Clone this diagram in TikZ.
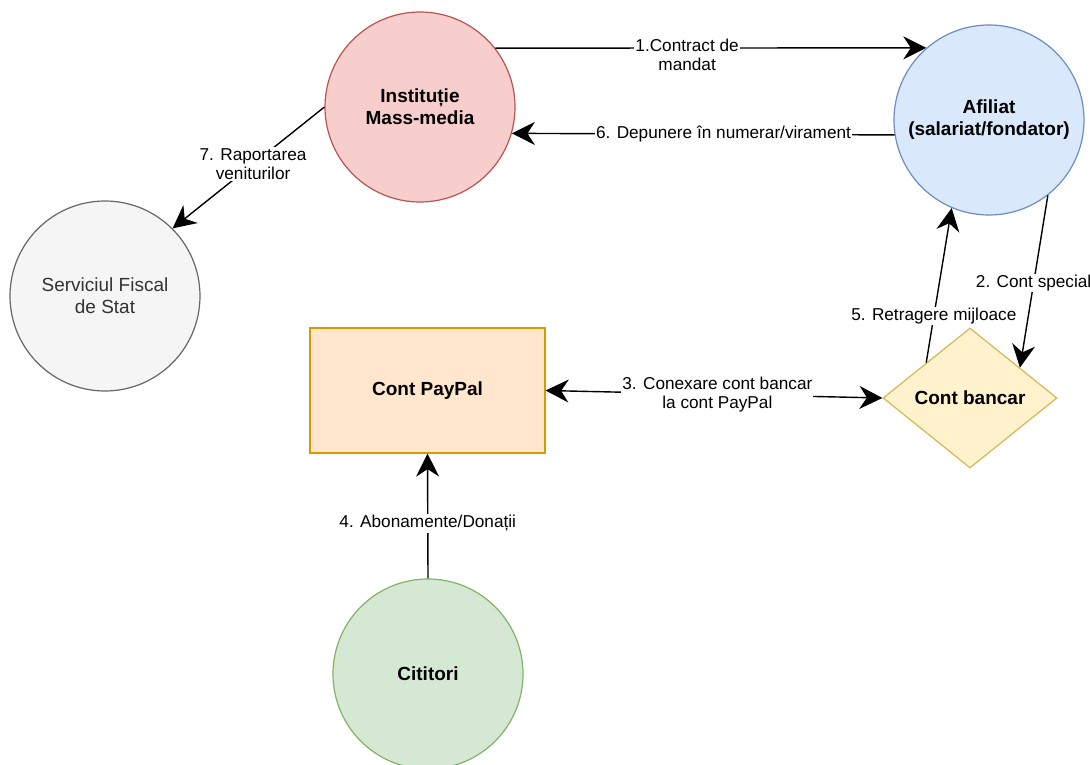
\documentclass[tikz,border=0pt]{standalone}
\usepackage{fontspec}
\setmainfont{Liberation Sans}
\usetikzlibrary{arrows.meta,shapes.geometric,calc}
\definecolor{redF}{HTML}{F8CECC}
\definecolor{redS}{HTML}{B85450}
\definecolor{blueF}{HTML}{DAE8FC}
\definecolor{blueS}{HTML}{6C8EBF}
\definecolor{greyF}{HTML}{F5F5F5}
\definecolor{greyS}{HTML}{666666}
\definecolor{greyT}{HTML}{333333}
\definecolor{orangeF}{HTML}{FFE6CC}
\definecolor{orangeS}{HTML}{D79B00}
\definecolor{yellowF}{HTML}{FFF2CC}
\definecolor{yellowS}{HTML}{D6B656}
\definecolor{greenF}{HTML}{D5E8D4}
\definecolor{greenS}{HTML}{82B366}
\begin{document}
\begin{tikzpicture}[x=1pt,y=-1pt,
  circ/.style={circle, minimum size=190pt, inner sep=0pt, line width=1.2pt, align=center,
    font=\fontsize{19}{22}\selectfont\bfseries},
  boxnode/.style={rectangle, minimum width=235pt, minimum height=125pt, inner sep=0pt, line width=1.2pt,
    align=center, font=\fontsize{19}{22}\selectfont\bfseries},
  dia/.style={diamond, minimum width=174pt, minimum height=140pt, inner sep=0pt, line width=1.2pt,
    align=center, font=\fontsize{19}{22}\selectfont\bfseries},
  arr/.style={-{Stealth[length=23pt,width=23pt,inset=7.5pt]}, line width=1.4pt},
  biarr/.style={{Stealth[length=23pt,width=23pt,inset=7.5pt]}-{Stealth[length=23pt,width=23pt,inset=7.5pt]}, line width=1.4pt},
  lbl/.style={fill=white, inner sep=1pt, align=center, font=\fontsize{17.2}{19.5}\selectfont}
]
\useasboundingbox (0,0) rectangle (1090,765);
\fill[white] (0,0) rectangle (1090,765);

\node[circ, fill=redF, draw=redS] (inst) at (420,107) {Instituție\\Mass-media};
\node[circ, fill=blueF, draw=blueS] (afil) at (989,120) {Afiliat\\(salariat/fondator)};
\node[circ, fill=greyF, draw=greyS, text=greyT, font=\fontsize{19}{22}\selectfont] (serv) at (105,296) {Serviciul Fiscal\\de Stat};
\node[circ, fill=greenF, draw=greenS] (cit) at (428,674) {Cititori};
\node[boxnode, fill=orangeF, draw=orangeS] (pp) at (427.5,390.5) {Cont PayPal};
\node[dia, fill=yellowF, draw=yellowS] (cb) at (970,398) {Cont bancar};

\draw[arr] (inst.38.5) -- node[lbl, pos=0.445, yshift=-7pt] {1.Contract de\\mandat} (afil.131.4);
\draw[arr] (afil.189) -- node[lbl, pos=0.447] {6. Depunere în numerar/virament} (inst.-16.4);
\draw[arr] (inst.180) -- node[lbl, pos=0.47] {7. Raportarea\\veniturilor} (serv.45);
\draw[arr] (afil.-52) -- node[lbl, pos=0.51] {2. Cont special} ($(cb.north)!0.57!(cb.east)$);
\draw[arr] (cb.north west) -- node[lbl, pos=0.3] {5. Retragere mijloace} (afil.-113);
\draw[biarr] (pp.east) -- node[lbl, pos=0.51] {3. Conexare cont bancar\\la cont PayPal} (cb.west);
\draw[arr] (cit.north) -- node[lbl, pos=0.44] {4. Abonamente/Donații} (pp.south);
\end{tikzpicture}
\end{document}
